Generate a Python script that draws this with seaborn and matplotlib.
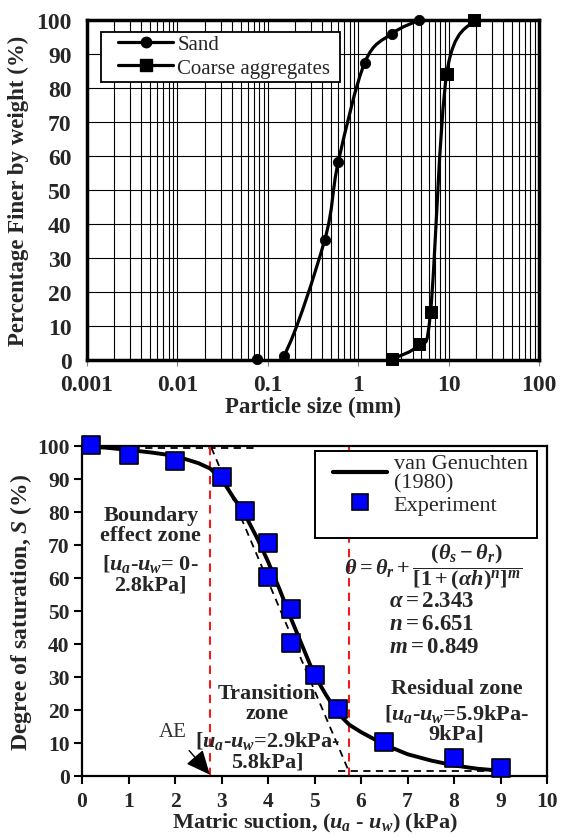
import matplotlib
matplotlib.use("Agg")
import matplotlib.pyplot as plt
from matplotlib.path import Path
from matplotlib.patches import PathPatch, Rectangle
from matplotlib.lines import Line2D
from matplotlib.ticker import LogLocator, NullFormatter, FuncFormatter
import seaborn as sns
import pandas as pd
import numpy as np

sns.set_theme(style="white")
plt.rcParams["font.family"] = ["Liberation Serif", "DejaVu Serif"]
plt.rcParams["font.weight"] = "bold"
plt.rcParams["axes.labelweight"] = "bold"
plt.rcParams["mathtext.fontset"] = "custom"
plt.rcParams["mathtext.rm"] = "Liberation Serif:bold"
plt.rcParams["mathtext.it"] = "Liberation Serif:italic:bold"
plt.rcParams["mathtext.bf"] = "Liberation Serif:bold"

# --- grain size distribution
sand_size = [0.075, 0.15, 0.425, 0.6, 1.18, 2.36, 4.75]
sand_finer = [0.3, 1.2, 35.3, 58.2, 87.5, 96.0, 100.0]
coarse_size = [2.36, 4.75, 6.3, 9.5, 19.0]
coarse_finer = [0.2, 4.6, 14.2, 84.2, 100.0]

# --- soil water characteristic curve
exp_suction = [0.2, 1, 2, 3, 3.5, 4, 4, 4.5, 4.5, 5, 5.5, 6.5, 8, 9]
exp_sat = [100.2, 97.2, 95.5, 90.5, 80.2, 70.5, 60.2, 50.6, 40.4, 30.5, 20.3, 10.2, 5.4, 2.5]
vg_suction = [0.2, 0.5, 1.0, 1.5, 2.0, 2.5, 2.75, 3.0, 3.25, 3.5, 3.75, 4.0, 4.25, 4.5,
              4.75, 5.0, 5.25, 5.5, 5.75, 6.0, 6.5, 7.0, 7.5, 8.0, 8.5, 9.0]
vg_sat = [99.7, 99.5, 98.8, 98.0, 97.0, 94.8, 93.2, 90.0, 84.5, 79.3, 72.5, 65.0, 56.5, 47.5,
          39.0, 30.5, 24.5, 19.0, 15.5, 13.3, 9.5, 6.6, 4.7, 3.2, 2.2, 1.6]
zone_bounds = [2.75, 5.75]


def smooth_path(xs, ys):
    # Catmull-Rom style bezier through the points, in log-x space (like Excel smoothed lines)
    u = np.log10(xs)
    v = np.asarray(ys, float)
    n = len(u)
    verts = [(xs[0], ys[0])]
    codes = [Path.MOVETO]
    for i in range(n - 1):
        i0 = max(i - 1, 0)
        i3 = min(i + 2, n - 1)
        c1 = (u[i] + (u[i + 1] - u[i0]) / 6, v[i] + (v[i + 1] - v[i0]) / 6)
        c2 = (u[i + 1] - (u[i3] - u[i]) / 6, v[i + 1] - (v[i3] - v[i]) / 6)
        verts += [(10 ** c1[0], c1[1]), (10 ** c2[0], c2[1]), (xs[i + 1], ys[i + 1])]
        codes += [Path.CURVE4] * 3
    return Path(verts, codes)


fig = plt.figure(figsize=(5.68, 8.37), dpi=100)
ax1 = fig.add_axes([0.1532, 0.5687, 0.796, 0.4062])
ax2 = fig.add_axes([0.1444, 0.0717, 0.8187, 0.3943])

# ---------------- top chart
ax1.set_xscale("log")
ax1.set_xlim(0.001, 100)
ax1.set_ylim(0, 100)
ax1.xaxis.set_minor_locator(LogLocator(base=10, subs=np.arange(2, 10)))
ax1.xaxis.set_minor_formatter(NullFormatter())
ax1.xaxis.set_major_formatter(FuncFormatter(lambda v, p: f"{v:g}"))
ax1.set_yticks(range(0, 101, 10))
ax1.grid(which="both", axis="x", color="black", lw=0.8)
ax1.grid(which="major", axis="y", color="black", lw=0.8)
ax1.set_axisbelow(True)

for xs, ys in [(sand_size, sand_finer), (coarse_size, coarse_finer)]:
    ax1.add_patch(PathPatch(smooth_path(xs, ys), fill=False, lw=2.3, edgecolor="black", zorder=3))
sns.scatterplot(x=sand_size, y=sand_finer, ax=ax1, marker="o", s=55, color="black",
                edgecolor="black", zorder=4, clip_on=False, legend=False)
sns.scatterplot(x=coarse_size, y=coarse_finer, ax=ax1, marker="s", s=75, color="black",
                edgecolor="black", zorder=4, clip_on=False, legend=False)

for s in ax1.spines.values():
    s.set_color("black")
    s.set_linewidth(2.5)
ax1.tick_params(axis="x", which="major", direction="out", length=4, width=0.8, color="gray",
                labelsize=17, pad=6, bottom=True)
ax1.tick_params(axis="x", which="minor", length=0)
ax1.tick_params(axis="y", length=0, labelsize=17, pad=11)
ax1.set_xlabel("Particle size (mm)", fontsize=16.5, labelpad=1)
ax1.set_ylabel("Percentage Finer by weight (%)", fontsize=16.5, labelpad=5)

ax1.add_patch(Rectangle((0.03, 0.8185), 0.529, 0.1455, transform=ax1.transAxes,
                        facecolor="white", edgecolor="black", lw=1.3, zorder=5))
h_sand = Line2D([], [], color="black", lw=2.3, marker="o", markersize=7.5)
h_coarse = Line2D([], [], color="black", lw=2.3, marker="s", markersize=8)
leg1 = ax1.legend([h_sand, h_coarse], ["Sand", "Coarse aggregates"], loc="upper left",
                  bbox_to_anchor=(0.0686, 0.958), handlelength=2.65, handletextpad=0.2,
                  frameon=False, borderpad=0, borderaxespad=0, labelspacing=0.2,
                  prop={"family": "Liberation Serif", "weight": "normal", "size": 15})
leg1.set_zorder(6)

# ---------------- bottom chart
ax2.set_xlim(0, 10)
ax2.set_ylim(0, 100)
ax2.set_xticks(range(0, 11))
ax2.set_yticks(range(0, 101, 10))

ax2.plot([0, 3.75], [99.5, 99.5], color="black", ls=(0, (4, 3)), lw=1.3, zorder=2)
ax2.plot([2.78, 5.72], [99.5, 2.0], color="black", ls=(0, (4, 3)), lw=1.3, zorder=2)
ax2.plot([5.5, 9.0], [1.6, 1.6], color="black", ls=(0, (4, 3)), lw=1.3, zorder=2)
for xb in zone_bounds:
    ax2.axvline(xb, color="#ee1c1c", ls=(0, (4, 3)), lw=1.5, zorder=2)

vg = pd.DataFrame({"suction": vg_suction, "sat": vg_sat})
sns.lineplot(data=vg, x="suction", y="sat", ax=ax2, color="black", lw=2.8, zorder=3)
sns.scatterplot(x=exp_suction, y=exp_sat, ax=ax2, marker="s", s=150, color="#0000ff",
                edgecolor="black", linewidth=1.2, zorder=4, clip_on=False, legend=False)

for s in ax2.spines.values():
    s.set_color("black")
    s.set_linewidth(1.6)
ax2.tick_params(axis="both", direction="out", length=6, width=1.5, color="black",
                labelsize=15.5, left=True, bottom=True)
ax2.tick_params(axis="x", pad=5)
ax2.tick_params(axis="y", pad=3)
ax2.set_xlabel(r"Matric suction, ($u_a$ - $u_w$) (kPa)", fontsize=16, labelpad=0)
ax2.set_ylabel(r"Degree of saturation, $S$ (%)", fontsize=17, labelpad=2)

txt = dict(ha="center", va="center", fontsize=16, fontweight="bold", linespacing=1.0, zorder=5)
ax2.text(1.48, 76, "Boundary\neffect zone", **txt)
ax2.text(1.48, 61.5, "[$u_a$-$u_w$= 0-\n2.8kPa]", **txt)
ax2.text(3.98, 22, "Transition\nzone", **txt)
ax2.text(3.98, 7.8, "[$u_a$-$u_w$=2.9kPa-\n5.8kPa]", **txt)
ax2.text(8.05, 26.7, "Residual zone", **txt)
ax2.text(8.05, 16.1, "[$u_a$-$u_w$=5.9kPa-\n9kPa]", **txt)

ax2.text(7.54, 63.5, r"$\theta = \theta_r + \dfrac{(\theta_s - \theta_r)}{[1 + (\alpha h)^n]^m}$",
         ha="center", va="center", fontsize=16)
for yv, s in [(53.2, r"$\alpha = 2.343$"), (46.2, r"$n = 6.651$"), (39.1, r"$m = 0.849$")]:
    ax2.text(6.6, yv, s, ha="left", va="center", fontsize=16.5)

ax2.annotate("AE", xy=(2.75, 0.4), xytext=(1.95, 13.5), ha="center", va="center",
             fontsize=15, fontweight="normal", color="#333333",
             arrowprops=dict(arrowstyle="-|>,head_length=1.0,head_width=0.45", color="black",
                             lw=1.0, shrinkA=6, shrinkB=0))

ax2.add_patch(Rectangle((0.5, 0.722), 0.479, 0.263, transform=ax2.transAxes,
                        facecolor="white", edgecolor="black", lw=1.4, zorder=5))
h_vg = Line2D([], [], color="black", lw=3)
h_exp = Line2D([], [], color="none", marker="s", markersize=11, markerfacecolor="#0000ff",
               markeredgecolor="black", markeredgewidth=1.2)
leg2 = ax2.legend([h_vg, h_exp], ["van Genuchten\n(1980)", "Experiment"], loc="upper left",
                  bbox_to_anchor=(0.539, 0.976), handlelength=2.45, handletextpad=0.3,
                  frameon=False, borderpad=0, borderaxespad=0, labelspacing=0.1,
                  prop={"family": "Liberation Serif", "weight": "normal", "size": 16})
for t in leg2.get_texts():
    t.set_linespacing(1.0)
leg2.set_zorder(6)

fig.savefig("out.png", dpi=100)
